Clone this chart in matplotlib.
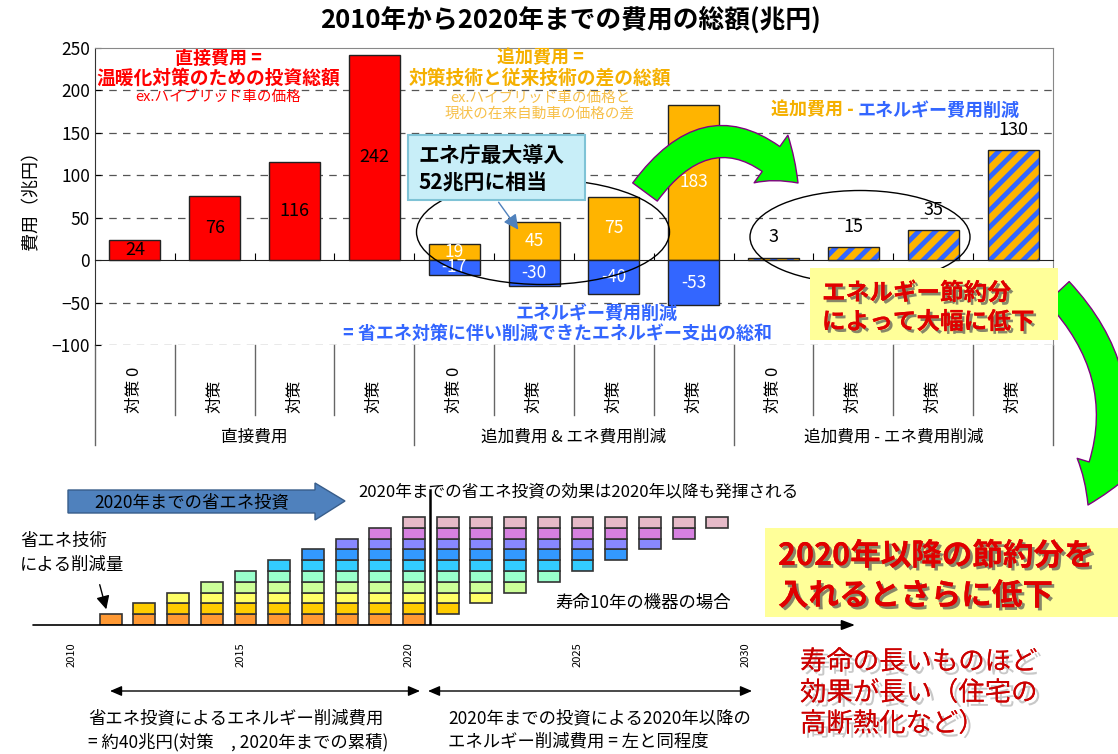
import numpy as np
import matplotlib
matplotlib.use('Agg')
import matplotlib.pyplot as plt
import matplotlib.patheffects as pe
from matplotlib.patches import Ellipse, FancyArrowPatch, FancyBboxPatch, Polygon, Rectangle
from matplotlib.transforms import Affine2D, blended_transform_factory

plt.rcParams['font.family'] = ['Noto Sans CJK JP', 'DejaVu Sans']
plt.rcParams['hatch.linewidth'] = 3.5

# data ---------------------------------------------------------------------
title = '2010年から2020年までの費用の総額(兆円)'
case_labels = ['対策 0', '対策', '対策', '対策'] * 3
group_labels = ['直接費用', '追加費用 & エネ費用削減', '追加費用 - エネ費用削減']
direct_cost = [24, 76, 116, 242]
added_cost = [19, 45, 75, 183]
energy_saving = [-17, -30, -40, -53]
net_cost = [3, 15, 35, 130]

invest_years = list(range(2011, 2021))
after_years = list(range(2021, 2030))
year_ticks = [2010, 2015, 2020, 2025, 2030]
layer_colors = ['#FF9933', '#FFCC00', '#FFFF66', '#CCFF99', '#99FFCC',
                '#33CCFF', '#3399FF', '#8888FF', '#D680E0', '#E6BAC8']

RED = '#FF0000'
ORANGE = '#FFB400'
BLUE = '#3366FF'

W, H = 1118, 754
fig = plt.figure(figsize=(W / 100, H / 100), dpi=100)
PX = Affine2D().scale(1 / W, -1 / H).translate(0, 1) + fig.transFigure


def box(l, t, r, b):
    return [l / W, 1 - b / H, (r - l) / W, (b - t) / H]


# top chart ----------------------------------------------------------------
ax = fig.add_axes(box(95, 48, 1053, 345))
x1 = np.arange(4)
x2 = x1 + 4
x3 = x1 + 8
bw = 0.64
ax.bar(x1, direct_cost, bw, color=RED, edgecolor='#222222', linewidth=1, zorder=3)
ax.bar(x2, added_cost, bw, color=ORANGE, edgecolor='#222222', linewidth=1, zorder=3)
ax.bar(x2, energy_saving, bw, color=BLUE, edgecolor='#222222', linewidth=1, zorder=3)
ax.bar(x3, net_cost, bw, color=ORANGE, edgecolor=BLUE, linewidth=0, hatch='//', zorder=3)
ax.bar(x3, net_cost, bw, fill=False, edgecolor='#222222', linewidth=1, zorder=4)

for x, v in zip(x1, direct_cost):
    ax.text(x, v / 2, str(v), ha='center', va='center', fontsize=13, color='black', zorder=5)
for x, v in zip(x2, added_cost):
    ax.text(x, v / 2, str(v), ha='center', va='center', fontsize=12.5, color='white', zorder=5)
for x, v in zip(x2, energy_saving):
    ax.text(x, v / 2, str(v), ha='center', va='center', fontsize=12.5, color='white', zorder=5)
for x, v in zip(x3, net_cost):
    ax.annotate(str(v), (x, v), xytext=(0, 8), textcoords='offset points',
                ha='center', va='bottom', fontsize=13, zorder=5)

ax.set_xlim(-0.5, 11.5)
ax.set_ylim(-100, 250)
ax.set_yticks(range(-100, 251, 50))
ax.tick_params(axis='y', labelsize=12.5, length=4, direction='in')
for y in [-100, -50, 50, 100, 150, 200]:
    ax.axhline(y, color='#555555', ls=(0, (6, 5)), lw=0.9, zorder=1)
ax.spines['bottom'].set_position(('data', 0))
ax.spines['bottom'].set_color('#222222')
ax.spines['left'].set_color('#333333')
ax.spines['top'].set_color('#888888')
ax.spines['right'].set_color('#888888')
ax.set_xticks(np.arange(0.5, 11, 1))
ax.tick_params(axis='x', direction='in', length=5, labelbottom=False)
ax.set_ylabel('費用（兆円）', fontsize=13, labelpad=8)

# category table below the chart
tr = blended_transform_factory(ax.transData, PX)
for b in np.arange(-0.5, 12, 1):
    bottom = 445 if b in (-0.5, 3.5, 7.5, 11.5) else 415
    ax.plot([b, b], [345, bottom], transform=tr, color='#666666', lw=1, clip_on=False)
for i, lab in enumerate(case_labels):
    ax.text(i, 413, lab, transform=tr, rotation=90, ha='center', va='bottom', fontsize=12)
for g, lab in enumerate(group_labels):
    ax.text(g * 4 + 1.5, 437, lab, transform=tr, ha='center', va='center', fontsize=12)

fig.text(570, 20, title, transform=PX, ha='center', va='center', fontsize=18.5, weight='bold')

# annotations in the top chart
fig.text(218, 58, '直接費用 =', transform=PX, ha='center', va='center', fontsize=13, weight='bold', color=RED)
fig.text(218, 78, '温暖化対策のための投資総額', transform=PX, ha='center', va='center', fontsize=13.5, weight='bold', color=RED)
fig.text(218, 97, 'ex.ハイブリッド車の価格', transform=PX, ha='center', va='center', fontsize=10.5, color=RED)
fig.text(540, 58, '追加費用 =', transform=PX, ha='center', va='center', fontsize=13, weight='bold', color='#F5B000')
fig.text(540, 78, '対策技術と従来技術の差の総額', transform=PX, ha='center', va='center', fontsize=13.5, weight='bold', color='#F5B000')
fig.text(540, 98, 'ex.ハイブリッド車の価格と', transform=PX, ha='center', va='center', fontsize=10.5, color='#F7C04A')
fig.text(540, 114, '現状の在来自動車の価格の差', transform=PX, ha='center', va='center', fontsize=10.5, color='#F7C04A')
fig.text(858, 110, '追加費用 - ', transform=PX, ha='right', va='center', fontsize=13, weight='bold', color='#F5B000')
fig.text(858, 110, 'エネルギー費用削減', transform=PX, ha='left', va='center', fontsize=13, weight='bold', color=BLUE)
fig.text(597, 313, 'エネルギー費用削減', transform=PX, ha='center', va='center', fontsize=13, weight='bold', color=BLUE)
fig.text(557, 333, '= 省エネ対策に伴い削減できたエネルギー支出の総和', transform=PX, ha='center', va='center', fontsize=13, weight='bold', color=BLUE)

fig.add_artist(Ellipse((543, 232), 253, 105, transform=PX, fill=False, edgecolor='black', lw=1))
fig.add_artist(Ellipse((860, 237), 220, 93, transform=PX, fill=False, edgecolor='black', lw=1))

fig.add_artist(FancyBboxPatch((408, 135), 177, 65, boxstyle='square,pad=0', transform=PX,
                              facecolor='#C8EEF8', edgecolor='#7FC3D6', lw=1.5))
fig.text(418, 155, 'エネ庁最大導入', transform=PX, ha='left', va='center', fontsize=15, weight='bold')
fig.text(418, 183, '52兆円に相当', transform=PX, ha='left', va='center', fontsize=15, weight='bold')
fig.add_artist(FancyArrowPatch((497, 200), (520, 232), transform=PX, arrowstyle='-|>,head_length=6,head_width=3',
                               color='#4F81BD', lw=1, mutation_scale=1.5))

# green curved arrows
fig.add_artist(FancyArrowPatch((645, 192), (798, 183), transform=PX, connectionstyle='arc3,rad=-0.6',
                               arrowstyle='simple,head_length=26,head_width=42,tail_width=22',
                               facecolor='#00FF00', edgecolor='#800080', lw=1, shrinkA=0, shrinkB=0))
fig.add_artist(FancyArrowPatch((1058, 292), (1088, 505), transform=PX, connectionstyle='arc3,rad=-0.35',
                               arrowstyle='simple,head_length=30,head_width=40,tail_width=22',
                               facecolor='#00FF00', edgecolor='#800080', lw=1, shrinkA=0, shrinkB=0))

shadow = [pe.withSimplePatchShadow(offset=(2, -2), shadow_rgbFace='#555555', alpha=0.7), pe.Normal()]
fig.add_artist(Rectangle((810, 268), 248, 72, transform=PX, facecolor='#FFFF99', edgecolor='none'))
fig.text(822, 293, 'エネルギー節約分', transform=PX, ha='left', va='center', fontsize=17, weight='bold',
         color='#E00000', path_effects=shadow)
fig.text(822, 322, 'によって大幅に低下', transform=PX, ha='left', va='center', fontsize=17, weight='bold',
         color='#E00000', path_effects=shadow)
fig.add_artist(Rectangle((765, 528), 353, 89, transform=PX, facecolor='#FFFF99', edgecolor='none'))
fig.text(778, 556, '2020年以降の節約分を', transform=PX, ha='left', va='center', fontsize=22, weight='bold',
         color='#E00000', path_effects=shadow)
fig.text(778, 596, '入れるとさらに低下', transform=PX, ha='left', va='center', fontsize=22, weight='bold',
         color='#E00000', path_effects=shadow)

soft = [pe.withSimplePatchShadow(offset=(3, -3), shadow_rgbFace='#BBBBBB', alpha=0.8), pe.Normal()]
for i, line in enumerate(['寿命の長いものほど', '効果が長い（住宅の', '高断熱化など）']):
    fig.text(800, 662 + i * 31, line, transform=PX, ha='left', va='center', fontsize=19,
             color='#CC0000', path_effects=soft)

# bottom chart -------------------------------------------------------------
px_per_year = 33.7
left_year = 2020 + (33 - 414) / px_per_year
right_year = 2020 + (855 - 414) / px_per_year
bx = fig.add_axes(box(33, 480, 855, 625))
bx.set_xlim(left_year, right_year)
bx.set_ylim(0, 145 / 10.8)
bx.axis('off')

for yr in invest_years:
    for k in range(yr - 2010):
        bx.bar(yr, 1, 0.65, bottom=k, color=layer_colors[k], edgecolor='#333333', lw=1.2)
for yr in after_years:
    for k in range(yr - 2020, 10):
        bx.bar(yr, 1, 0.65, bottom=k, color=layer_colors[k], edgecolor='#333333', lw=1.2)

bx.annotate('', xy=(right_year, 0), xytext=(left_year, 0),
            arrowprops=dict(arrowstyle='-|>,head_length=0.8,head_width=0.3', color='black', lw=1.2, shrinkA=0, shrinkB=0),
            annotation_clip=False)
bx.plot([2020.47, 2020.47], [0, 135 / 10.8], color='black', lw=1.8)

trb = blended_transform_factory(bx.transData, PX)
for yr in year_ticks:
    bx.text(yr - 0.15, 655, str(yr), transform=trb, rotation=90, ha='center', va='center', fontsize=8)

fig.add_artist(Polygon([(68, 490), (315, 490), (315, 483), (345, 501), (315, 520), (315, 513), (68, 513)],
                       closed=True, transform=PX, facecolor='#4F81BD', edgecolor='#385D8A', lw=1))
fig.text(192, 502, '2020年までの省エネ投資', transform=PX, ha='center', va='center', fontsize=12.5)
fig.text(358, 492, '2020年までの省エネ投資の効果は2020年以降も発揮される', transform=PX,
         ha='left', va='center', fontsize=12)
fig.text(20, 541, '省エネ技術', transform=PX, ha='left', va='center', fontsize=12.5)
fig.text(20, 565, 'による削減量', transform=PX, ha='left', va='center', fontsize=12.5)
fig.add_artist(FancyArrowPatch((99, 582), (107, 612), transform=PX, arrowstyle='-|>,head_length=8,head_width=4',
                               color='black', lw=1))
fig.text(555, 603, '寿命10年の機器の場合', transform=PX, ha='left', va='center', fontsize=12.5)

for a, b in [(110, 420), (428, 752)]:
    fig.add_artist(FancyArrowPatch((a, 691), (b, 691), transform=PX,
                                   arrowstyle='<|-|>,head_length=7,head_width=3', color='black', lw=1,
                                   shrinkA=0, shrinkB=0))
fig.text(88, 718, '省エネ投資によるエネルギー削減費用', transform=PX, ha='left', va='center', fontsize=12.5)
fig.text(88, 742, '= 約40兆円(対策　, 2020年までの累積)', transform=PX, ha='left', va='center', fontsize=12.5)
fig.text(448, 718, '2020年までの投資による2020年以降の', transform=PX, ha='left', va='center', fontsize=12.5)
fig.text(448, 742, 'エネルギー削減費用 = 左と同程度', transform=PX, ha='left', va='center', fontsize=12.5)

fig.savefig('out.png', dpi=100)
